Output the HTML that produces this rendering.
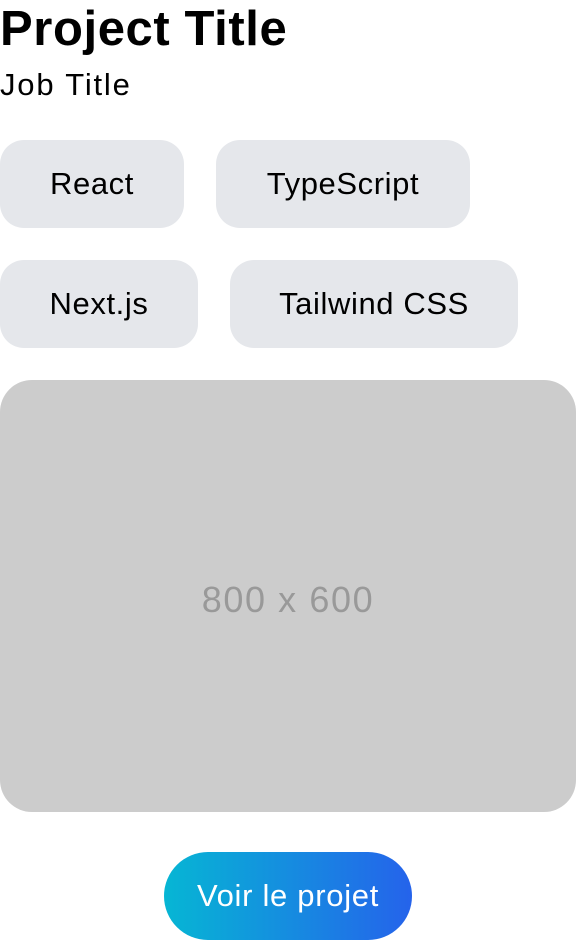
<!DOCTYPE html>
<html><head><meta charset="utf-8"><style>
body{margin:0;width:576px;height:940px;background:#fff;font-family:"Liberation Sans",sans-serif;position:relative;overflow:hidden;color:#000}
.a{position:absolute}
h1{position:absolute;left:0;top:0;margin:0;font-size:49px;font-weight:bold;line-height:58px;letter-spacing:0.6px}
.job{left:0;top:66px;font-size:31px;line-height:38px;letter-spacing:1.8px}
.chip{position:absolute;background:#e5e7eb;border-radius:24px;height:88px;display:flex;align-items:center;justify-content:center;font-size:31px;letter-spacing:0.6px}
.img{left:0;top:380px;width:576px;height:432px;background:#cccccc;border-radius:32px;display:flex;align-items:center;justify-content:center;color:#999;font-size:36px;letter-spacing:1.6px;box-sizing:border-box;padding-top:8px}
.btn{left:164px;top:852px;width:248px;height:88px;border-radius:44px;background:linear-gradient(90deg,#06b6d4,#2563eb);color:#fff;display:flex;align-items:center;justify-content:center;font-size:31px;letter-spacing:0.7px}
</style></head><body>
<h1>Project Title</h1>
<div class="a job">Job Title</div>
<div class="chip" style="left:0;top:140px;width:184px">React</div>
<div class="chip" style="left:216px;top:140px;width:254px">TypeScript</div>
<div class="chip" style="left:0;top:260px;width:198px">Next.js</div>
<div class="chip" style="left:230px;top:260px;width:288px">Tailwind CSS</div>
<div class="a img">800 x 600</div>
<div class="a btn">Voir le projet</div>
</body></html>
